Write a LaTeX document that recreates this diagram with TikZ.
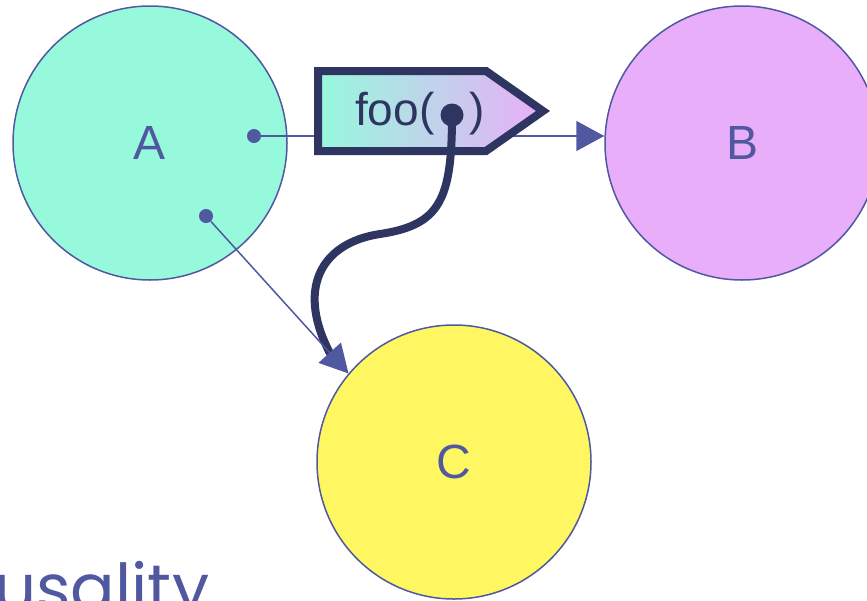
\documentclass[tikz,border=0pt]{standalone}
\usepackage{fontspec}
\setmainfont{Liberation Sans}
\newfontfamily\headfont{Poppins}
\usetikzlibrary{arrows.meta}

\definecolor{aqua}{HTML}{96F9DC}
\definecolor{lilac}{HTML}{E9AEF9}
\definecolor{lemon}{HTML}{FFF761}
\definecolor{slate}{HTML}{5058A0}
\definecolor{navy}{HTML}{2E3561}

\begin{document}
\begin{tikzpicture}[x=1pt, y=-1pt,
        state/.style={circle, draw=slate, line width=1.5pt, minimum size=274pt, inner sep=0pt,
            text=slate, font=\fontsize{48}{48}\selectfont},
        tap/.style={circle, fill=slate, minimum size=14pt, inner sep=0pt},
        link/.style={draw=slate, line width=1.5pt, -{Triangle[length=28pt, width=30pt]}},
        flow/.style={draw=navy, line width=8pt}]
        \useasboundingbox (0,0) rectangle (867,600);
        \clip (0,0) rectangle (867,600);

        % states
        \node[state, fill=aqua] (A) at (150,143) {A};
        \node[state, fill=lilac] (B) at (742,143) {B};
        \node[state, fill=lemon] (C) at (454,462) {C};

        % taps on A
        \node[tap] (ab) at (254,136) {};
        \node[tap] (ac) at (206,216) {};

        \draw[link] (ab) -- (ab -| B.west);

        % the call tag
        \path[draw=navy, line width=8pt, left color=aqua, right color=lilac]
            (318,71) -- (486,71) -- (543,111) -- (486,151) -- (318,151) -- cycle;
        \node[anchor=base west, inner sep=0pt, text=navy, font=\fontsize{46}{46}\selectfont]
            (call) at (355,125) {foo(\hspace{35pt})};

        \node[circle, fill=navy, minimum size=23pt, inner sep=0pt] (hook) at (452,115) {};
        \coordinate (hit) at (332,357);
        \draw[flow] (hook.center) .. controls (452,200) and (440,225) .. (380,234)
            .. controls (320,243) and (295,290) .. (hit);

        \draw[link] (ac) -- (C.140);

        \node[anchor=base west, inner sep=0pt, text=slate, font=\headfont\fontsize{66}{66}\selectfont]
            (title) at (-6,611) {usality};
    \end{tikzpicture}
\end{document}
